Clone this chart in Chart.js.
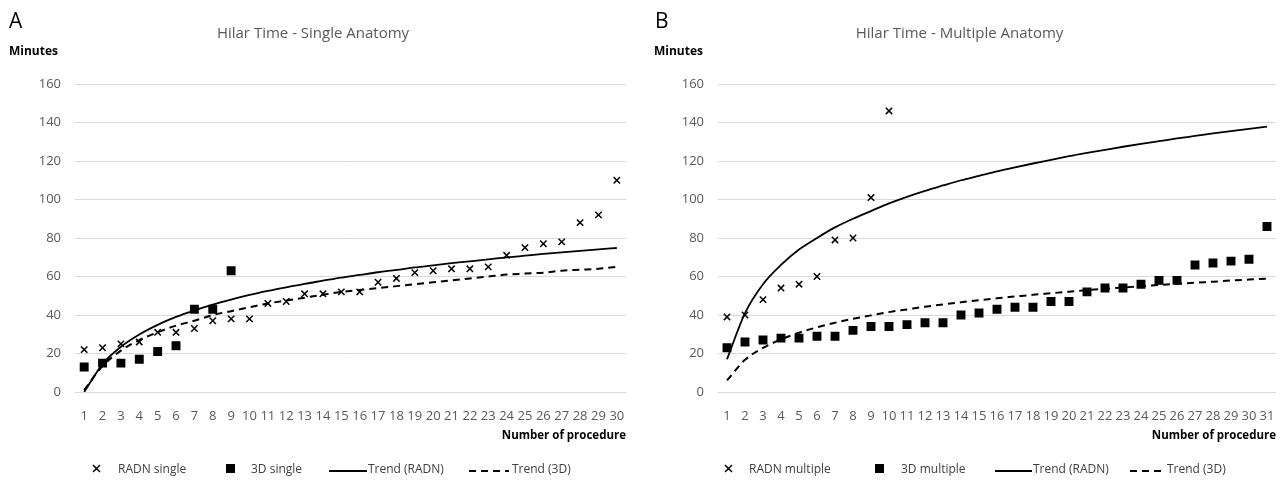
<!DOCTYPE html>
<html>
<head>
<meta charset="utf-8">
<script src="https://cdn.jsdelivr.net/npm/chart.js@4.4.1/dist/chart.umd.min.js"></script>
<style>
    body { margin: 0; background: #fff; font-family: 'Open Sans', sans-serif; }
    .panel { position: absolute; top: 0; height: 492px; }
    #pa { left: 0; width: 643px; }
    #pb { left: 643px; width: 644px; }
    .panel canvas { position: absolute; left: 0; top: 0; }
    .letter { position: absolute; top: 8px; font-size: 21px; line-height: 24px; color: #000; }
    .ylab { position: absolute; top: 43px; font-size: 12px; line-height: 16px; font-weight: bold; color: #000; }
    .leg { position: absolute; top: 461px; font-size: 12px; line-height: 16px; color: #404040; white-space: nowrap; }
    .sym { position: absolute; line-height: 0; }
</style>
</head>
<body>
<div class="panel" id="pa">
    <canvas id="chartA" width="643" height="492"></canvas>
    <div class="letter" style="left:9px">A</div>
    <div class="ylab" style="left:9px">Minutes</div>
</div>
<div class="panel" id="pb">
    <canvas id="chartB" width="644" height="492"></canvas>
    <div class="letter" style="left:12px">B</div>
    <div class="ylab" style="left:11px">Minutes</div>
</div>
<script>
// A - single anatomy
const procA = [1, 2, 3, 4, 5, 6, 7, 8, 9, 10, 11, 12, 13, 14, 15, 16, 17, 18, 19, 20, 21, 22, 23, 24, 25, 26, 27, 28, 29, 30];
const radnSingle = [22, 23, 25, 26, 31, 31, 33, 37, 38, 38, 46, 47, 51, 51, 52, 52, 57, 59, 62, 63, 64, 64, 65, 71, 75, 77, 78, 88, 92, 110];
const d3Single = [13, 15, 15, 17, 21, 24, 43, 43, 63];
const trendRadnA = [0, 14.5, 23.5, 29.9, 34.9, 39, 42.4, 45.4, 48, 50.4, 52.5, 54.4, 56.2, 57.8, 59.4, 60.8, 62.2, 63.4, 64.7, 65.8, 66.9, 67.9, 68.9, 69.9, 70.8, 71.7, 72.5, 73.3, 74.1, 74.8];
const trend3dA = [1, 13.5, 21.5, 27, 31, 34.5, 37, 40, 42, 44, 46, 47.5, 49, 50.5, 52, 53, 54, 55, 56, 57, 58, 59, 60, 61, 61.5, 62, 63, 63.5, 64, 65];

// B - multiple anatomy
const procB = [1, 2, 3, 4, 5, 6, 7, 8, 9, 10, 11, 12, 13, 14, 15, 16, 17, 18, 19, 20, 21, 22, 23, 24, 25, 26, 27, 28, 29, 30, 31];
const radnMultiple = [39, 40, 48, 54, 56, 60, 79, 80, 101, 146];
const d3Multiple = [23, 26, 27, 28, 28, 29, 29, 32, 34, 34, 35, 36, 36, 40, 41, 43, 44, 44, 47, 47, 52, 54, 54, 56, 58, 58, 66, 67, 68, 69, 86];
const trendRadnB = [17, 41, 56, 66, 74, 80, 85.5, 90, 94, 98, 101.4, 104.5, 107.3, 110, 112.3, 114.6, 116.7, 118.7, 120.6, 122.5, 124.2, 125.8, 127.4, 128.9, 130.3, 131.7, 133, 134.3, 135.5, 136.7, 137.9];
const trend3dB = [6, 16.7, 22.9, 27.3, 30.8, 33.6, 36, 38, 39.8, 41.5, 42.9, 44.3, 45.5, 46.6, 47.7, 48.7, 49.6, 50.5, 51.3, 52.1, 52.9, 53.6, 54.3, 54.9, 55.6, 56.2, 56.8, 57.3, 57.9, 58.4, 58.9];

const yTicks = [0, 20, 40, 60, 80, 100, 120, 140, 160];

Chart.defaults.font.family = "'Open Sans', sans-serif";
Chart.defaults.color = '#595959';

function makeChart(id, title, labels, radn, d3, trendRadn, trend3d, names) {
    const ctx = document.getElementById(id).getContext('2d');
    return new Chart(ctx, {
        type: 'line',
        data: {
            labels: labels,
            datasets: [
                {
                    label: names[0],
                    data: radn,
                    showLine: false,
                    pointStyle: 'crossRot',
                    pointRadius: 4.5,
                    borderColor: '#000',
                    backgroundColor: '#000',
                    pointBorderWidth: 1.5,
                },
                {
                    label: names[1],
                    data: d3,
                    showLine: false,
                    pointStyle: 'rect',
                    pointRadius: 6.3,
                    borderColor: '#000',
                    backgroundColor: '#000',
                    pointBorderWidth: 0,
                },
                {
                    label: 'Trend (RADN)',
                    data: trendRadn,
                    borderColor: '#000',
                    borderWidth: 1.8,
                    pointRadius: 0,
                    cubicInterpolationMode: 'monotone',
                },
                {
                    label: 'Trend (3D)',
                    data: trend3d,
                    borderColor: '#000',
                    borderWidth: 2,
                    borderDash: [7, 5],
                    pointRadius: 0,
                    cubicInterpolationMode: 'monotone',
                },
            ],
        },
        options: {
            responsive: false,
            animation: false,
            events: [],
            layout: { padding: { left: 0, right: id === 'chartA' ? 17 : 11, top: 0, bottom: 0 } },
            scales: {
                x: {
                    type: 'category',
                    offset: true,
                    grid: { display: false },
                    border: { display: false },
                    ticks: {
                        autoSkip: false,
                        maxRotation: 0,
                        padding: 8,
                        color: '#595959',
                        font: { size: 13 },
                    },
                    title: {
                        display: true,
                        text: 'Number of procedure',
                        align: 'end',
                        color: '#000',
                        font: { size: 11.5, weight: 'bold' },
                        padding: { top: 0, bottom: 49 },
                    },
                    afterFit: (s) => { s.height = 100; },
                },
                y: {
                    min: 0,
                    max: 160,
                    afterBuildTicks: (s) => { s.ticks = yTicks.map((v) => ({ value: v })); },
                    grid: { color: '#d9d9d9', lineWidth: 1, drawTicks: false },
                    border: { display: false },
                    ticks: { padding: 14, color: '#595959', font: { size: 13 } },
                    afterFit: (s) => { s.width = 75; },
                },
            },
            plugins: {
                legend: { display: false },
                tooltip: { enabled: false },
                title: {
                    display: true,
                    text: title,
                    color: '#595959',
                    font: { size: 15, weight: 'normal' },
                    padding: { top: 25, bottom: 41 },
                },
            },
        },
    });
}

function icon(ds, w) {
    if (ds.pointStyle === 'crossRot') {
        return '<svg width="9" height="9"><path d="M1 1L8 8M8 1L1 8" stroke="#000" stroke-width="1.5"/></svg>';
    }
    if (ds.pointStyle === 'rect') {
        return '<svg width="9" height="9"><rect x="0" y="0" width="9" height="9" fill="#000"/></svg>';
    }
    const dash = ds.borderDash ? ' stroke-dasharray="7 5"' : '';
    return '<svg width="' + w + '" height="4"><line x1="0" y1="2" x2="' + w + '" y2="2" stroke="#000" stroke-width="2"' + dash + '/></svg>';
}

function buildLegend(panelId, chart, spots) {
    const panel = document.getElementById(panelId);
    chart.data.datasets.forEach((ds, i) => {
        const sp = spots[i];
        const s = document.createElement('div');
        s.className = 'sym';
        const small = ds.showLine === false;
        s.style.left = sp.sym + 'px';
        s.style.top = (small ? 464 : 467) + 'px';
        s.innerHTML = icon(ds, sp.w || 0);
        panel.appendChild(s);
        const t = document.createElement('div');
        t.className = 'leg';
        t.style.left = sp.txt + 'px';
        t.textContent = ds.label;
        panel.appendChild(t);
    });
}

const chartA = makeChart('chartA', 'Hilar Time - Single Anatomy', procA, radnSingle, d3Single, trendRadnA, trend3dA,
    ['RADN single', '3D single']);
const chartB = makeChart('chartB', 'Hilar Time - Multiple Anatomy', procB, radnMultiple, d3Multiple, trendRadnB, trend3dB,
    ['RADN multiple', '3D multiple']);

buildLegend('pa', chartA, [
    { sym: 92, txt: 118 },
    { sym: 226, txt: 251 },
    { sym: 329, txt: 368, w: 38 },
    { sym: 469, txt: 512, w: 40 },
]);
buildLegend('pb', chartB, [
    { sym: 81, txt: 106 },
    { sym: 232, txt: 258 },
    { sym: 352, txt: 390, w: 37 },
    { sym: 487, txt: 524, w: 36 },
]);
</script>
</body>
</html>
